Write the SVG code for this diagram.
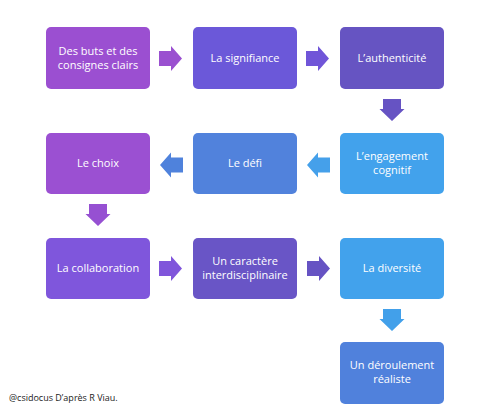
<svg xmlns="http://www.w3.org/2000/svg" width="499" height="419" viewBox="0 0 499 419">
<defs>
<style>
.box{rx:5;ry:5}
.t{font-family:"Open Sans","Liberation Sans",sans-serif;font-size:11px;fill:#ffffff;text-anchor:middle}
.foot{font-family:"Open Sans","Liberation Sans",sans-serif;font-size:9px;fill:#222222}
</style>
<path id="ar" d="M0,-7.5 H12 V-12.5 L23,0 L12,12.5 V7.5 H0 Z"/>
<path id="al" d="M0,-7.5 H-12 V-12.5 L-23,0 L-12,12.5 V7.5 H0 Z"/>
<path id="ad" d="M-9,0 H9 V10 H12.5 L0,22 L-12.5,10 H-9 Z"/>
</defs>
<rect width="499" height="419" fill="#ffffff"/>
<g id="connectors">
<use href="#ar" x="159" y="58.5" fill="#9a50d0"/>
<use href="#ar" x="306" y="58.5" fill="#7055d8"/>
<use href="#ad" x="392" y="99" fill="#6653c3"/>
<use href="#al" x="330" y="165" fill="#45a0ea"/>
<use href="#al" x="183" y="165" fill="#4f82dc"/>
<use href="#ad" x="98" y="204" fill="#9650d2"/>
<use href="#ar" x="159" y="268.5" fill="#8055db"/>
<use href="#ar" x="307" y="268.5" fill="#6653c3"/>
<use href="#ad" x="392" y="309" fill="#42a0ea"/>
</g>
<g id="n1"><rect class="box" x="46" y="27" width="104" height="62" fill="#9b4fd1"/><text class="t" x="98" y="55">Des buts et des</text><text class="t" x="98" y="69">consignes clairs</text></g>
<g id="n2"><rect class="box" x="193" y="27" width="104" height="62" fill="#6b58d9"/><text class="t" x="245" y="62">La signifiance</text></g>
<g id="n3"><rect class="box" x="340" y="27" width="104" height="62" fill="#6654c2"/><text class="t" x="392" y="62">L’authenticité</text></g>
<g id="n4"><rect class="box" x="340" y="133" width="104" height="61" fill="#42a2ec"/><text class="t" x="392" y="160">L’engagement</text><text class="t" x="392" y="174">cognitif</text></g>
<g id="n5"><rect class="box" x="193" y="133" width="104" height="61" fill="#5182dc"/><text class="t" x="245" y="167">Le défi</text></g>
<g id="n6"><rect class="box" x="46" y="133" width="104" height="61" fill="#9b50d2"/><text class="t" x="98" y="167">Le choix</text></g>
<g id="n7"><rect class="box" x="46" y="238" width="104" height="61" fill="#7f56dc"/><text class="t" x="98" y="272">La collaboration</text></g>
<g id="n8"><rect class="box" x="193" y="238" width="104" height="61" fill="#6955c6"/><text class="t" x="245" y="265">Un caractère</text><text class="t" x="245" y="279">interdisciplinaire</text></g>
<g id="n9"><rect class="box" x="340" y="238" width="104" height="61" fill="#42a2ec"/><text class="t" x="392" y="272">La diversité</text></g>
<g id="n10"><rect class="box" x="340" y="342" width="104" height="62" fill="#5081dc"/><text class="t" x="392" y="369">Un déroulement</text><text class="t" x="392" y="383">réaliste</text></g>
<text class="foot" x="9" y="401">@csidocus D’après R Viau.</text>
</svg>
